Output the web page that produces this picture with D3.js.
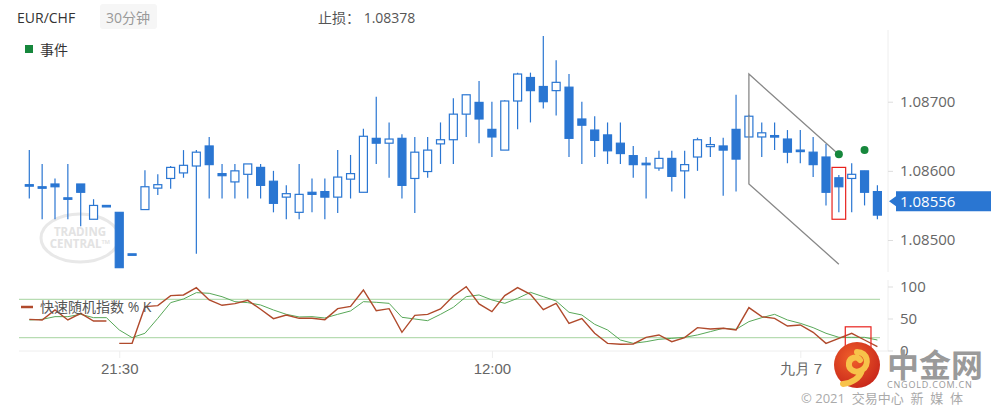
<!DOCTYPE html>
<html lang="zh">
<head>
<meta charset="UTF-8">
<title>EUR/CHF</title>
<script src="https://d3js.org/d3.v7.min.js"></script>
<style>
  body { margin: 0; background: #fff; }
  svg { display: block; font-family: "Open Sans", "Noto Sans CJK SC", sans-serif; }
</style>
</head>
<body>
<svg width="991" height="415"></svg>
<script>
// 30 min candles, EUR/CHF
const opens  = [1.08579,1.08576,1.08581,1.08560,1.08581,1.08530,1.08550,1.08540,1.08480,1.08544,
                1.08575,1.08589,1.08597,1.08607,1.08636,1.08596,1.08584,1.08595,1.08605,1.08585,
                1.08562,1.08540,1.08569,1.08570,1.08562,1.08588,1.08569,1.08647,1.08640,1.08647,
                1.08589,1.08599,1.08639,1.08645,1.08682,1.08699,1.08660,1.08630,1.08701,1.08735,
                1.08722,1.08716,1.08721,1.08675,1.08659,1.08652,1.08640,1.08622,1.08610,1.08604,
                1.08618,1.08600,1.08620,1.08635,1.08636,1.08660,1.08649,1.08649,1.08650,1.08646,
                1.08630,1.08627,1.08620,1.08590,1.08589,1.08600,1.08570];
const highs  = [1.08630,1.08610,1.08589,1.08610,1.08581,1.08559,1.08550,1.08540,1.08480,1.08601,
                1.08595,1.08607,1.08630,1.08630,1.08649,1.08610,1.08610,1.08610,1.08610,1.08600,
                1.08579,1.08610,1.08589,1.08589,1.08630,1.08623,1.08661,1.08707,1.08670,1.08653,
                1.08649,1.08649,1.08670,1.08705,1.08710,1.08730,1.08700,1.08702,1.08742,1.08742,
                1.08795,1.08760,1.08740,1.08700,1.08679,1.08670,1.08670,1.08636,1.08620,1.08629,
                1.08629,1.08629,1.08648,1.08649,1.08648,1.08710,1.08681,1.08670,1.08670,1.08659,
                1.08659,1.08649,1.08639,1.08594,1.08611,1.08600,1.08579];
const lows   = [1.08560,1.08530,1.08530,1.08530,1.08520,1.08530,1.08550,1.08460,1.08480,1.08544,
                1.08565,1.08574,1.08590,1.08480,1.08560,1.08560,1.08560,1.08560,1.08560,1.08540,
                1.08530,1.08530,1.08540,1.08530,1.08539,1.08560,1.08569,1.08610,1.08590,1.08560,
                1.08539,1.08590,1.08610,1.08610,1.08649,1.08640,1.08620,1.08630,1.08660,1.08670,
                1.08690,1.08680,1.08620,1.08610,1.08620,1.08610,1.08610,1.08590,1.08560,1.08600,
                1.08570,1.08560,1.08600,1.08620,1.08564,1.08570,1.08649,1.08620,1.08630,1.08611,
                1.08611,1.08591,1.08550,1.08540,1.08540,1.08550,1.08530];
const closes = [1.08580,1.08577,1.08577,1.08561,1.08569,1.08550,1.08550,1.08460,1.08480,1.08577,
                1.08580,1.08605,1.08608,1.08627,1.08609,1.08593,1.08600,1.08610,1.08579,1.08553,
                1.08567,1.08566,1.08566,1.08562,1.08591,1.08596,1.08650,1.08640,1.08646,1.08579,
                1.08627,1.08630,1.08645,1.08682,1.08710,1.08675,1.08649,1.08701,1.08740,1.08716,
                1.08700,1.08728,1.08647,1.08666,1.08644,1.08629,1.08625,1.08609,1.08611,1.08618,
                1.08592,1.08609,1.08645,1.08638,1.08630,1.08617,1.08679,1.08655,1.08651,1.08627,
                1.08629,1.08609,1.08569,1.08577,1.08595,1.08569,1.08536];

// fast stochastic %K and its signal line
const kValues = [48.7,47.7,63.3,47.7,58.1,46.1,46.1,11.2,11.2,68.5,
                 70.1,85.7,86.8,98.2,78.9,70.6,73.2,78.4,64.4,49.8,
                 55.5,50.3,50.3,48.2,65.4,69.0,94.6,62.3,65.4,28.4,
                 55.0,56.5,64.9,85.2,99.8,72.7,60.7,85.7,98.2,87.8,
                 63.8,73.7,42.5,49.8,26.9,11.2,9.7,10.2,20.6,24.3,
                 13.8,20.1,35.7,33.6,34.7,32.1,67.0,52.9,50.3,38.3,
                 39.9,28.4,11.2,19.0,26.9,16.4,6.0];
const kBreakAt = 7; // %K line is not joined between candle 6 and 7
const dValues = [47.7,48.7,52.9,52.9,56.5,51.3,51.3,32.1,20.1,26.9,
                 50.3,74.8,80.5,90.4,89.4,84.1,76.3,74.8,71.1,63.3,
                 56.5,52.4,52.9,50.8,56.5,61.8,76.3,75.3,73.7,51.9,
                 49.2,46.6,56.5,67.5,84.1,86.8,79.0,73.7,81.5,90.9,
                 84.1,77.4,59.7,55.5,40.9,32.1,16.4,11.2,13.8,17.5,
                 19.0,20.6,24.3,29.5,34.7,33.1,45.1,51.3,56.5,47.7,
                 42.5,35.7,26.9,20.6,20.6,20.6,16.4];

const timeTicks = [{i: 7, label: "21:30"}, {i: 36, label: "12:00"}, {i: 60, label: "九月 7"}];
const priceTicks = [1.085, 1.086, 1.087];
const oscTicks = [0, 50, 100];
const oscLevels = [20, 80];
const lastPrice = 1.08556;
const stopLoss = "1.08378";

// drawn objects
const channelTop = [{i: 56, p: 1.08740}, {i: 62.8, p: 1.08627}];
const channelBottom = [{i: 56, p: 1.08581}, {i: 63, p: 1.08465}];
const events = [{i: 63, p: 1.08624}, {i: 65, p: 1.08630}];
const markBox = {i0: 62.47, i1: 63.53, p0: 1.08605, p1: 1.08530};
const oscBox = {i0: 63.5, i1: 65.5, v0: 37, v1: 0};

const blue = "#2a76d2", red = "#b04a2c", green = "#58a858";

const svg = d3.select("svg");
const x = d3.scaleLinear().domain([0, 66]).range([29.3, 877.4]);
const y = d3.scaleLinear().domain([1.085, 1.087]).range([240, 101.7]);
const yo = d3.scaleLinear().domain([0, 100]).range([350.5, 286.5]);

// header
svg.append("text").attr("x", 17).attr("y", 23).attr("font-size", 14).attr("fill", "#333").text("EUR/CHF");
svg.append("rect").attr("x", 100).attr("y", 4).attr("width", 57).attr("height", 25).attr("rx", 3).attr("fill", "#f6f6f6");
svg.append("text").attr("x", 106).attr("y", 23).attr("font-size", 14).attr("fill", "#999").text("30分钟");
svg.append("text").attr("x", 318).attr("y", 23).attr("font-size", 14).attr("fill", "#555").text("止损：  " + stopLoss);
svg.append("rect").attr("x", 25).attr("y", 45).attr("width", 8).attr("height", 8).attr("fill", "#16873c");
svg.append("text").attr("x", 40).attr("y", 55).attr("font-size", 14).attr("fill", "#333").text("事件");

// trading central watermark
const wm = svg.append("g").attr("opacity", 0.9);
wm.append("ellipse").attr("cx", 80).attr("cy", 238).attr("rx", 39).attr("ry", 24)
  .attr("fill", "none").attr("stroke", "#e6e6e6").attr("stroke-width", 3);
wm.append("text").attr("x", 80).attr("y", 236).attr("text-anchor", "middle").attr("font-size", 11.5)
  .attr("font-weight", "bold").attr("fill", "#e0e0e0").text("TRADING");
wm.append("text").attr("x", 80).attr("y", 248).attr("text-anchor", "middle").attr("font-size", 11.5)
  .attr("font-weight", "bold").attr("fill", "#e0e0e0").text("CENTRAL™");

// axes frame
svg.append("line").attr("x1", 888).attr("x2", 888).attr("y1", 30).attr("y2", 272).attr("stroke", "#eee");
svg.append("line").attr("x1", 888).attr("x2", 888).attr("y1", 280).attr("y2", 351).attr("stroke", "#eee");
svg.append("line").attr("x1", 19).attr("x2", 888).attr("y1", 351).attr("y2", 351).attr("stroke", "#eee");

const yAxis = d3.axisRight(y).tickValues(priceTicks).tickFormat(d3.format(".5f")).tickSize(5).tickPadding(7);
svg.append("g").attr("transform", "translate(888,0)").call(yAxis)
  .call(g => g.select(".domain").remove())
  .call(g => g.selectAll("line").attr("stroke", "#ddd"))
  .call(g => g.selectAll("text").attr("font-size", 15).attr("fill", "#666").attr("font-family", "Open Sans"));

const oAxis = d3.axisRight(yo).tickValues(oscTicks).tickSize(5).tickPadding(7);
svg.append("g").attr("transform", "translate(888,0)").call(oAxis)
  .call(g => g.select(".domain").remove())
  .call(g => g.selectAll("line").attr("stroke", "#ddd"))
  .call(g => g.selectAll("text").attr("font-size", 15).attr("fill", "#666").attr("font-family", "Open Sans"));

const xAxis = d3.axisBottom(x).tickValues(timeTicks.map(d => d.i))
  .tickFormat(i => timeTicks.find(t => t.i === i).label).tickSize(7).tickPadding(5);
svg.append("g").attr("transform", "translate(0,351)").call(xAxis)
  .call(g => g.select(".domain").remove())
  .call(g => g.selectAll("line").attr("stroke", "#eee"))
  .call(g => g.selectAll("text").attr("font-size", 15).attr("fill", "#666"));

// candles
const candles = opens.map((o, i) => ({i, o, h: highs[i], l: lows[i], c: closes[i]}));
const bw = 8;
const cg = svg.append("g");
cg.selectAll("line.wick").data(candles.filter(d => d.h > d.l)).enter().append("line")
  .attr("x1", d => x(d.i)).attr("x2", d => x(d.i))
  .attr("y1", d => y(d.h)).attr("y2", d => y(d.l))
  .attr("stroke", blue).attr("stroke-width", 1.2);
cg.selectAll("rect.body").data(candles).enter().append("rect")
  .attr("x", d => x(d.i) - bw / 2)
  .attr("y", d => Math.min(y(d.o), y(d.c)))
  .attr("width", bw)
  .attr("height", d => Math.max(1.5, Math.abs(y(d.o) - y(d.c))))
  .attr("fill", d => (d.c > d.o && Math.abs(y(d.o) - y(d.c)) > 2) ? "#fff" : blue)
  .attr("stroke", blue).attr("stroke-width", 1.2);

// channel
const cl = d3.line().x(d => x(d.i)).y(d => y(d.p));
svg.append("path").attr("d", cl([channelTop[1], channelTop[0], channelBottom[0], channelBottom[1]]))
  .attr("fill", "none").attr("stroke", "#888").attr("stroke-width", 1.3);

svg.selectAll("circle.ev").data(events).enter().append("circle")
  .attr("cx", d => x(d.i)).attr("cy", d => y(d.p)).attr("r", 4).attr("fill", "#16873c");

svg.append("rect").attr("x", x(markBox.i0)).attr("y", y(markBox.p0))
  .attr("width", x(markBox.i1) - x(markBox.i0)).attr("height", y(markBox.p1) - y(markBox.p0))
  .attr("fill", "none").attr("stroke", "#e8221d").attr("stroke-width", 1.2);

// last price tag
const ly = y(lastPrice);
svg.append("path").attr("d", `M889,${ly} L896,${ly - 5} L896,${ly - 10} L991,${ly - 10} L991,${ly + 10} L896,${ly + 10} L896,${ly + 5} Z`)
  .attr("fill", blue);
svg.append("text").attr("x", 900).attr("y", ly + 5.5).attr("font-size", 15).attr("fill", "#fff")
  .attr("font-family", "Open Sans").text(lastPrice.toFixed(5));

// oscillator
svg.selectAll("line.lvl").data(oscLevels).enter().append("line")
  .attr("x1", 19).attr("x2", 880).attr("y1", d => yo(d)).attr("y2", d => yo(d))
  .attr("stroke", "#b7dcb2").attr("stroke-width", 1.2);

const ol = d3.line().x((d, i) => x(i)).y(d => yo(d));
svg.append("path").attr("d", ol(dValues)).attr("fill", "none").attr("stroke", green).attr("stroke-width", 1);
const kl = d3.line().defined(d => d != null).x((d, i) => x(i)).y(d => yo(d));
const kPart1 = kValues.map((v, i) => i < kBreakAt ? v : null);
const kPart2 = kValues.map((v, i) => i >= kBreakAt ? v : null);
[kPart1, kPart2].forEach(part => {
  svg.append("path").attr("d", kl(part)).attr("fill", "none").attr("stroke", red).attr("stroke-width", 1.4);
});

svg.append("line").attr("x1", 21).attr("x2", 33).attr("y1", 307).attr("y2", 307).attr("stroke", red).attr("stroke-width", 2.5);
svg.append("text").attr("x", 40).attr("y", 312).attr("font-size", 14).attr("fill", "#555").text("快速随机指数 % K");

svg.append("rect").attr("x", x(oscBox.i0)).attr("y", yo(oscBox.v0))
  .attr("width", x(oscBox.i1) - x(oscBox.i0)).attr("height", yo(oscBox.v1) - yo(oscBox.v0))
  .attr("fill", "none").attr("stroke", "#e8221d").attr("stroke-width", 1.2);

// cngold watermark
const defs = svg.append("defs");
const grad = defs.append("radialGradient").attr("id", "lg").attr("cx", "40%").attr("cy", "35%").attr("r", "70%");
grad.append("stop").attr("offset", "0%").attr("stop-color", "#f0602a");
grad.append("stop").attr("offset", "100%").attr("stop-color", "#c8261a");
const cn = svg.append("g");
cn.append("circle").attr("cx", 857).attr("cy", 365).attr("r", 23).attr("fill", "url(#lg)");
cn.append("path").attr("d", "M857,352 C868,352 870,365 862,370 C856,374 848,370 849,363 C850,357 857,356 860,360 M862,370 C860,378 852,383 843,384")
  .attr("fill", "none").attr("stroke", "#f7c24a").attr("stroke-width", 6).attr("stroke-linecap", "round");
cn.append("text").attr("x", 887).attr("y", 377).attr("font-size", 32).attr("font-weight", "bold")
  .attr("fill", "#9a9a9a").attr("font-family", "Noto Sans CJK SC").attr("letter-spacing", 0).text("中金网");
cn.append("text").attr("x", 887).attr("y", 388).attr("font-size", 9).attr("fill", "#999").attr("letter-spacing", 0.8).text("CNGOLD.COM.CN");
cn.append("text").attr("x", 801).attr("y", 403).attr("font-size", 13).attr("fill", "#aaa").attr("xml:space", "preserve")
  .text("© 2021  交易中心  新  媒  体");
</script>
</body>
</html>
